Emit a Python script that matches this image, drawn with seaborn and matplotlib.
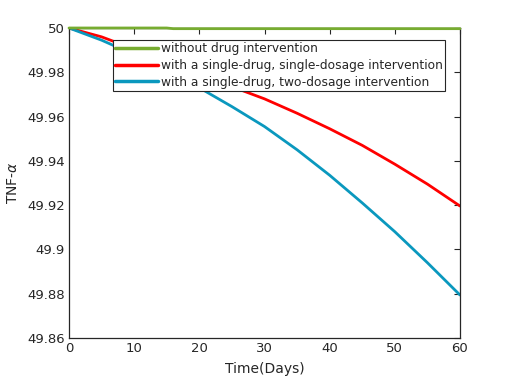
import matplotlib
matplotlib.use("Agg")
import matplotlib.pyplot as plt
import numpy as np
import pandas as pd
import seaborn as sns
from matplotlib.ticker import FuncFormatter

# values
days = [0, 5, 10, 15, 16, 20, 25, 30, 35, 40, 45, 50, 55, 60]
no_drug = [50.0, 50.0, 50.0, 50.0, 49.9997, 49.9997, 49.9997, 49.9997,
           49.9997, 49.9997, 49.9997, 49.9997, 49.9997, 49.9997]
single_dose = [50.0, 49.9960, 49.9905, 49.9850, 49.9838, 49.9790, 49.9735, 49.9680,
               49.9615, 49.9545, 49.9470, 49.9385, 49.9295, 49.9196]
two_dose = [50.0, 49.9945, 49.9880, 49.9805, 49.9790, 49.9730, 49.9645, 49.9555,
            49.9450, 49.9335, 49.9210, 49.9080, 49.8940, 49.8794]

labels = ["without drug intervention",
          "with a single-drug, single-dosage intervention",
          "with a single-drug, two-dosage intervention"]
colors = ["#77ac30", "#ff0000", "#0a98be"]

df = pd.DataFrame({"day": days, labels[0]: no_drug, labels[1]: single_dose, labels[2]: two_dose})
long = df.melt(id_vars="day", var_name="series", value_name="tnf")

sns.set_theme(style="white")
plt.rcParams["font.family"] = ["DejaVu Sans"]
plt.rcParams["font.size"] = 9.5

fig = plt.figure(figsize=(5.08, 3.81), dpi=100)
ax = fig.add_axes([69 / 508, 1 - 338 / 381, 391 / 508, 310 / 381])

sns.lineplot(data=long, x="day", y="tnf", hue="series", palette=colors,
             hue_order=labels, linewidth=2, ax=ax)
# the flat line sits on the top edge; keep it drawn above the spine
ax.lines[0].set_clip_on(False)
ax.lines[0].set_zorder(5)

ax.set_xlim(0, 60)
ax.set_ylim(49.86, 50)
ax.set_xticks(np.arange(0, 61, 10))
ax.set_yticks(np.linspace(49.86, 50, 8))
ax.yaxis.set_major_formatter(FuncFormatter(lambda v, p: f"{v:.2f}".rstrip("0").rstrip(".")))
ax.tick_params(direction="in", length=4, width=0.8, top=True, right=True,
               labelsize=9.5, colors="#262626", pad=3)
for s in ax.spines.values():
    s.set_color("#262626")
    s.set_linewidth(0.9)

ax.set_xlabel("Time(Days)", fontsize=10, color="#262626", labelpad=5)
ax.set_ylabel(r"TNF-$\alpha$", fontsize=10, color="#262626", labelpad=5)

leg = ax.legend(loc="upper left", bbox_to_anchor=(0.1125, 0.962), fontsize=8.8,
                frameon=True, fancybox=False, framealpha=1, edgecolor="#262626",
                handlelength=3.5, handletextpad=0.2, labelspacing=0.3,
                borderpad=0.2, borderaxespad=0)
leg.get_frame().set_linewidth(0.8)
for line in leg.get_lines():
    line.set_linewidth(2.5)

fig.savefig("out.png", dpi=100)
